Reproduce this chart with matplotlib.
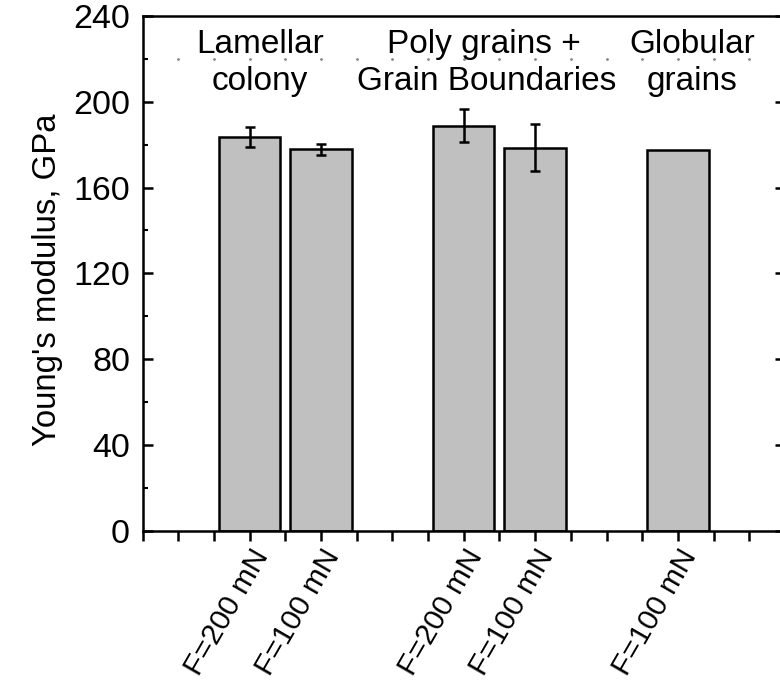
import numpy as np
import matplotlib
matplotlib.use("Agg")
import matplotlib.pyplot as plt

plt.rcParams['font.family'] = ['Liberation Sans', 'DejaVu Sans']

# Bars: indentation load per microstructure region
positions = [3, 5, 9, 11, 15]
tick_labels = ["F=200 mN", "F=100 mN", "F=200 mN", "F=100 mN", "F=100 mN"]
modulus = [183.7, 177.8, 188.7, 178.6, 177.5]
errors = [4.7, 2.6, 7.7, 10.9, 0.0]

group_lines = [["Lamellar", "colony"],
               ["Poly grains +", "Grain Boundaries"],
               ["Globular", "grains"]]
group_x = [[3.3, 3.3], [9.55, 9.65], [15.4, 15.4]]
group_baselines = [222.5, 205.5]

y_major = [0, 40, 80, 120, 160, 200, 240]
y_minor = [20, 60, 100, 140, 180, 220]
x_minor = list(range(0, 19))
guide_level = 220

W, H = 780, 687
fig = plt.figure(figsize=(W / 100, H / 100), dpi=100)
left, right, bottom, top = 142.5, 785.0, 530.7, 15.9
ax = fig.add_axes([left / W, (H - bottom) / H, (right - left) / W, (bottom - top) / H])

lw = 1.8
ax.bar(positions, modulus, width=1.72, color='#c0c0c0', edgecolor='black',
       linewidth=lw, zorder=2)

ex = [p for p, e in zip(positions, errors) if e > 0]
ey = [m for m, e in zip(modulus, errors) if e > 0]
ee = [e for e in errors if e > 0]
ax.errorbar(ex, ey, yerr=ee, fmt='none', ecolor='black', elinewidth=lw,
            capsize=3.3, capthick=lw, zorder=3)

# faint dotted guide at the minor tick positions
ax.plot(x_minor[1:], [guide_level] * (len(x_minor) - 1), ls='none', marker='o',
        ms=1.0, color='#888888', zorder=1)

ax.set_xlim(0, 18)
ax.set_ylim(0, 240)

ax.set_xticks(positions)
ax.set_xticklabels(tick_labels, rotation=60, ha='right', va='top',
                   rotation_mode='anchor', fontsize=21.5)
ax.set_xticks(x_minor, minor=True)
ax.tick_params(axis='x', which='both', direction='out', length=7, width=lw,
               top=False, pad=3)

ax.set_yticks(y_major)
ax.set_yticks(y_minor, minor=True)
ax.tick_params(axis='y', which='major', direction='in', length=7, width=lw,
               right=True, labelsize=24.5, pad=9)
ax.tick_params(axis='y', which='minor', direction='in', length=3.5, width=1.5,
               right=True)

for s in ax.spines.values():
    s.set_linewidth(lw)

ax.set_ylabel("Young's modulus, GPa", fontsize=23.7)
ax.yaxis.set_label_coords(-0.124, 0.487)

for lines, xs in zip(group_lines, group_x):
    for text, x, yb in zip(lines, xs, group_baselines):
        ax.text(x, yb, text, ha='center', va='baseline', fontsize=24)

fig.savefig("out.png", dpi=100)
